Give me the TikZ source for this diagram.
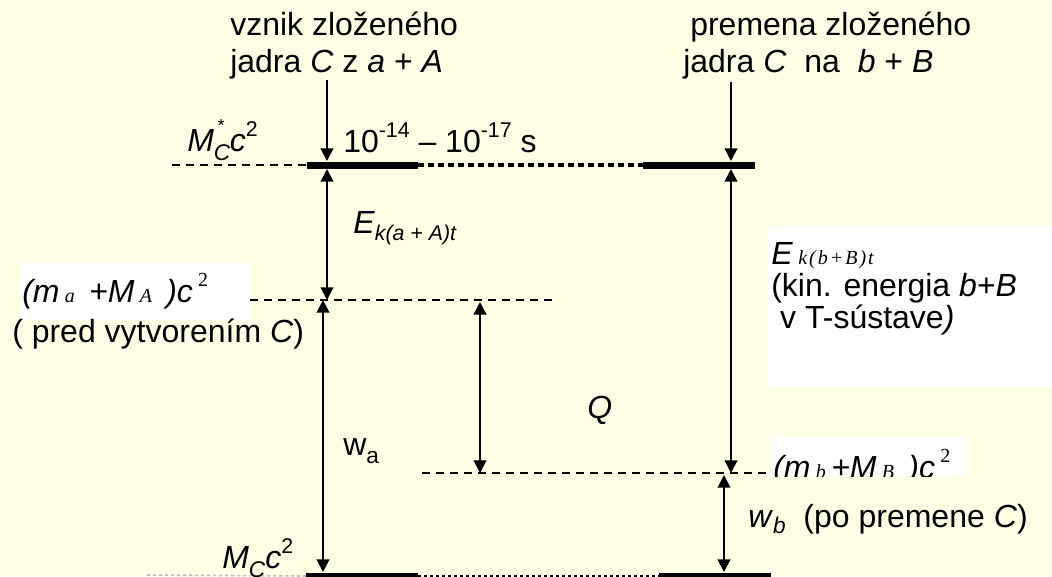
\documentclass[tikz,border=0pt]{standalone}
\usepackage{fontspec}
\setmainfont{Liberation Sans}
\newfontfamily\tms{Liberation Serif}
\usetikzlibrary{arrows.meta}
\definecolor{bg}{HTML}{FFFFE6}
\newcommand\fsz[1]{\fontsize{#1}{#1}\selectfont}
\begin{document}
\begin{tikzpicture}[x=0.75pt,y=-0.75pt,
 lbl/.style={anchor=base west,inner sep=0pt,font=\fsz{24}},
 dbl/.style={line width=1.5pt,{Triangle[length=9.5pt,width=9.5pt]}-{Triangle[length=9.5pt,width=9.5pt]}},
 sgl/.style={line width=1.5pt,-{Triangle[length=9.5pt,width=9.5pt]}},
 lvl/.style={line width=5.25pt},
 dotlvl/.style={line width=3pt,dash pattern=on 4.5pt off 3pt},
 thindot/.style={line width=1.2pt,dash pattern=on 2.5pt off 2pt},
 dsh/.style={line width=0.9pt,dash pattern=on 6pt off 4.5pt}]
\fill[bg] (0,0) rectangle (1052,576);
\useasboundingbox (0,0) rectangle (1052,576);

% coordinates
\coordinate (t1) at (327,80);
\coordinate (t1e) at (327,161);
\coordinate (t2) at (731,82);
\coordinate (t2e) at (731,161);
\coordinate (Lu) at (172,165);
\coordinate (L1) at (307,165);
\coordinate (L2) at (418,165);
\coordinate (L3) at (643,165);
\coordinate (L4) at (755,165);
\coordinate (Ea1) at (327,169);
\coordinate (Ea2) at (327,300);
\coordinate (D1a) at (250,300);
\coordinate (D1b) at (558,300);
\coordinate (wa1) at (323,300);
\coordinate (wa2) at (323,572);
\coordinate (Q1) at (480,302);
\coordinate (Q2) at (480,473);
\coordinate (D2a) at (422,473);
\coordinate (D2b) at (770,473);
\coordinate (Eb1) at (731,169);
\coordinate (Eb2) at (731,473);
\coordinate (wb1) at (724,475);
\coordinate (wb2) at (724,572);
\coordinate (B0) at (147,575);
\coordinate (B1) at (306,576);
\coordinate (B2) at (418,576);
\coordinate (B3) at (659,576);
\coordinate (B4) at (771,576);

% white boxes
\fill[white] (20,263) rectangle (250,320);
\fill[white] (768,226) rectangle (1052,387);

% levels
\draw[dsh] (Lu) -- (L1);
\draw[lvl] (L1) -- (L2);
\draw[dotlvl] (L2) -- (L3);
\draw[lvl] (L3) -- (L4);
\draw[dsh] (D1a) -- (D1b);
\draw[dsh] (D2a) -- (D2b);
\draw[thindot,black!25] (B0) -- (B1);
\draw[lvl] (B1) -- (B2);
\draw[thindot] (B2) -- (B3);
\draw[lvl] (B3) -- (B4);

% arrows
\draw[sgl] (t1) -- (t1e);
\draw[sgl] (t2) -- (t2e);
\draw[dbl] (Ea1) -- (Ea2);
\draw[dbl] (wa1) -- (wa2);
\draw[dbl] (Q1) -- (Q2);
\draw[dbl] (Eb1) -- (Eb2);
\draw[dbl] (wb1) -- (wb2);

% labels
\node[lbl] (v1) at (230,35) {vznik zloženého};
\node[lbl] (v2) at (230,72) {jadra \textit{C} z \textit{a} + \textit{A}};
\node[lbl] (p1) at (690,35) {premena zloženého};
\node[lbl] (p2) at (683,72) {jadra \textit{C}\ \ na\ \ \textit{b} + \textit{B}};
\node[lbl] (mcs) at (187,151) {\textit{M}\makebox[12pt][l]{\rlap{\raisebox{-0.3em}{\fsz{17}\textit{C}}}\hspace{3pt}\raisebox{0.62em}{\fsz{13}*}}\textit{c}\raisebox{0.45em}{\fsz{16}2}};
\node[lbl] (tau) at (343,152) {10\raisebox{0.45em}{\fsz{16}-14} -- 10\raisebox{0.45em}{\fsz{16}-17} s};
\node[lbl] (Eka) at (353,233) {\textit{E}\raisebox{-0.22em}{\fsz{16}\itshape k(a + A)t}};
\node[lbl] (ma) at (22,302) {\textit{(m}\,{\tms\itshape\fsz{15}a}\, \textit{+M}\,{\tms\itshape\fsz{15}A}\, \textit{)c}\,\raisebox{0.5em}{\tms\fsz{15}2}};
\node[lbl] (pred) at (12,342) {( pred vytvorením \textit{C})};
\node[lbl] (wa) at (343,455) {w\raisebox{-0.25em}{\fsz{17}a}};
\node[lbl] (Q) at (587,418) {\textit{Q}};
\node[lbl,align=left,font=\fontsize{24}{21}\selectfont] (Ekb) at (771,328)
  {\textit{E}\,{\tms\itshape\fsz{15}k\kern1.5pt(\kern1.5pt b\kern1.5pt+\kern1.5pt B\kern1.5pt)\kern1.5pt t}\\[3pt]
   (kin. energia \textit{b}+\textit{B}\\
   \ v T-sústave\textit{)}};
\begin{scope}
\clip (770,437) rectangle (967,476);
\fill[white] (770,437) rectangle (967,476);
\node[lbl] (mb) at (773,478) {\textit{(m}\,{\tms\itshape\fsz{15}b}\,\textit{+M}\,{\tms\itshape\fsz{15}B}\, \textit{)c}\,\raisebox{0.5em}{\tms\fsz{15}2}};
\end{scope}
\node[lbl] (wb) at (748,527) {\textit{w}\raisebox{-0.2em}{\fsz{17}\textit{b}}\ \ (po premene \textit{C})};
\node[lbl] (mc) at (222,568) {\textit{M}\raisebox{-0.3em}{\fsz{17}\textit{C}}\textit{c}\raisebox{0.45em}{\fsz{16}2}};
\end{tikzpicture}
\end{document}
